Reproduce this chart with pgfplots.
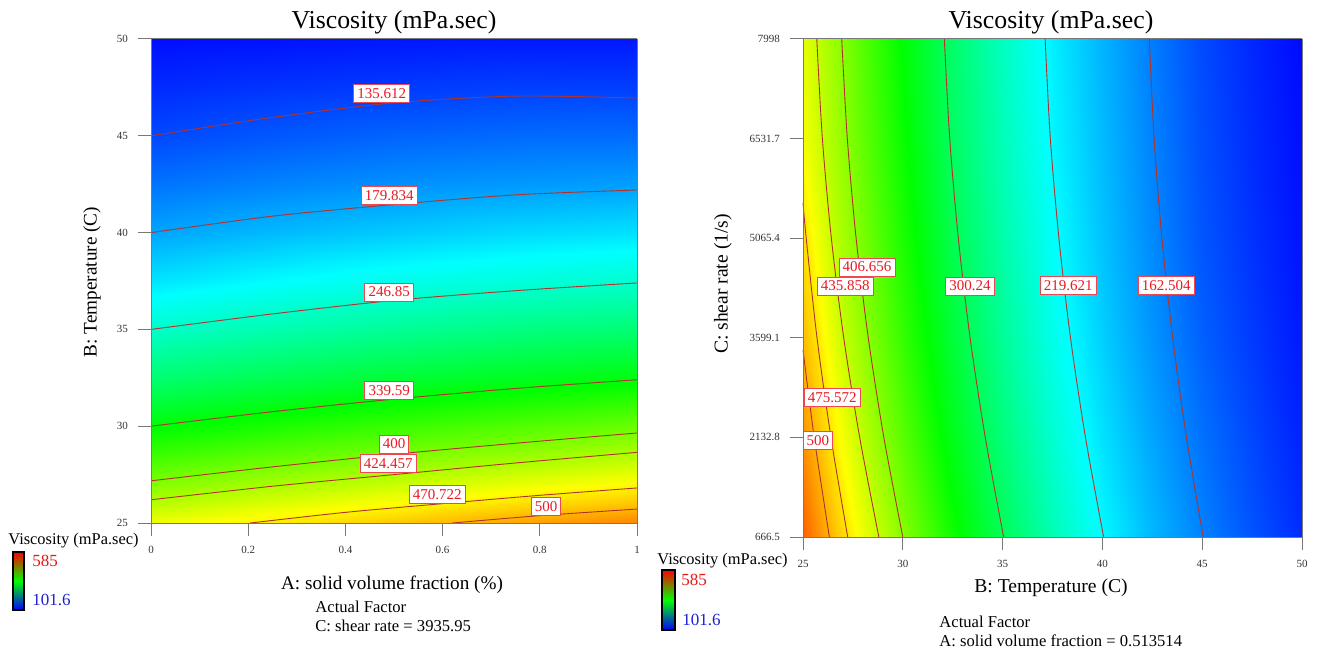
\documentclass[border=0pt]{standalone}
\usepackage{fontspec}
\setmainfont{Liberation Serif}
\usepackage{pgfplots}
\usepackage{pgfplotstable}
\pgfplotsset{compat=1.18}

\definecolor{cLine}{RGB}{175,50,45}
\definecolor{cLab}{RGB}{235,25,35}
\definecolor{cFrame}{RGB}{120,120,120}
\definecolor{cLo}{RGB}{30,30,210}
\definecolor{cHi}{RGB}{225,25,25}

% left: A (solid volume fraction) vs B (temperature), viscosity
\pgfplotstableread{
a T v
0 25 458
0.25 25 474
0.5 25 490
0.75 25 507
1 25 522
0 26 430.1
0.25 26 448.0
0.5 26 464.8
0.75 26 479.7
1 26 492.5
0 27 404.5
0.25 27 422.0
0.5 27 437.9
0.75 27 453.1
1 27 465.9
0 28 382.4
0.25 28 397.9
0.5 28 412.8
0.75 28 427.1
1 28 440.8
0 29 361.0
0.25 29 376.7
0.5 29 390.5
0.75 29 402.9
1 29 415.9
0 30 339.6
0.25 30 355.5
0.5 30 369.3
0.75 30 381.2
1 30 392.3
0 32.5 290
0.25 32.5 305
0.5 32.5 318
0.75 32.5 328
1 32.5 337
0 35 246.85
0.25 35 260
0.5 35 272
0.75 35 282
1 35 289
0 37.5 210
0.25 37.5 222
0.5 37.5 232
0.75 37.5 239
1 37.5 245
0 40 179.8
0.25 40 190
0.5 40 198
0.75 40 205
1 40 209
0 42.5 156
0.25 42.5 164
0.5 42.5 170
0.75 42.5 174
1 42.5 176.5
0 45 135.6
0.25 45 143
0.5 45 149
0.75 45 152
1 45 153
0 47.5 121
0.25 47.5 125.8
0.5 47.5 129
0.75 47.5 131.5
1 47.5 131
0 50 108
0.25 50 110
0.5 50 112
0.75 50 113
1 50 113
}\tabA

% right: B (temperature) vs C (shear rate)
\pgfplotstableread{
T C v
25 666.5 540
26 666.5 509.7
27 666.5 482.0
28 666.5 456.2
29 666.5 431.0
30 666.5 406.7
32.5 666.5 350
35 666.5 301.3
37.5 666.5 258
40 666.5 220.6
42.5 666.5 189
45 666.5 163.1
47.5 666.5 141
50 666.5 122
25 2132.8 516
26 2132.8 487.2
27 2132.8 459.0
28 2132.8 432.0
29 2132.8 407.9
30 2132.8 385
32.5 2132.8 331
35 2132.8 285
37.5 2132.8 244
40 2132.8 209
42.5 2132.8 180
45 2132.8 155
47.5 2132.8 135
50 2132.8 117
25 3599.1 496
26 3599.1 466.7
27 3599.1 437.1
28 3599.1 413.1
29 3599.1 390
30 3599.1 368
32.5 3599.1 316
35 3599.1 272
37.5 3599.1 232
40 3599.1 200
42.5 3599.1 172
45 3599.1 147
47.5 3599.1 129
50 3599.1 113
25 5065.4 480
26 5065.4 449.1
27 5065.4 422.2
28 5065.4 399.6
29 5065.4 377
30 5065.4 356
32.5 5065.4 305
35 5065.4 263
37.5 5065.4 224
40 5065.4 194
42.5 5065.4 167
45 5065.4 142
47.5 5065.4 125
50 5065.4 110
25 6531.7 461
26 6531.7 435.2
27 6531.7 411.8
28 6531.7 389
29 6531.7 368
30 6531.7 347
32.5 6531.7 297
35 6531.7 256
37.5 6531.7 218.4
40 6531.7 190
42.5 6531.7 163.5
45 6531.7 139
47.5 6531.7 122
50 6531.7 108
25 7998 453
26 7998 428.7
27 7998 405.5
28 7998 383
29 7998 362
30 7998 341
32.5 7998 293
35 7998 252
37.5 7998 215
40 7998 187
42.5 7998 160.8
45 7998 136.5
47.5 7998 120
50 7998 106
}\tabB

\pgfplotsset{
  dex/.style={
    view={0}{90}, scale only axis, axis on top, clip=false,
    anchor=south west, enlargelimits=false, scaled ticks=false,
    colormap={dex}{rgb255=(0,0,255) rgb255=(0,255,255) rgb255=(0,255,0) rgb255=(255,255,0) rgb255=(255,0,0)},
    point meta min=101.6, point meta max=585,
    axis line style={draw=cFrame, line width=0.5pt},
    tick style={draw=cFrame, line width=0.5pt},
    tick align=outside, major tick length=6.5pt,
    xtick pos=left, ytick pos=left, ztick=\empty,
    tick label style={font=\fontsize{5.5}{6}\selectfont, color=black!80},
    yticklabel style={xshift=-1.5pt},
    xticklabel style={yshift=-1.5pt},
  },
  cline/.style={draw=cLine, line width=0.45pt, smooth, tension=0.5, mark=none},
}
\tikzset{clab/.style={draw=cLab!80, fill=white, text=cLab, line width=0.5pt,
  inner xsep=1.8pt, inner ysep=0pt, minimum height=9pt, font=\fontsize{7.5}{8}\selectfont}}

\begin{document}
\begin{tikzpicture}
\useasboundingbox (0,0) rectangle (660pt,324.5pt);

\begin{axis}[dex, at={(75.5pt,63pt)}, width=243pt, height=242pt,
  xmin=0, xmax=1, ymin=25, ymax=50,
  xtick={0,0.2,0.4,0.6,0.8,1}, xticklabels={0,0.2,0.4,0.6,0.8,1},
  ytick={25,30,35,40,45,50}, yticklabels={25,30,35,40,45,50}]
  \addplot3[surf, shader=interp, mesh/cols=5] table[x=a,y=T,z=v] {\tabA};
  \addplot3[cline] coordinates {(0,45.0,0) (0.25,45.95,0) (0.5,46.7,0) (0.75,47.05,0) (1,46.95,0)};
  \addplot3[cline] coordinates {(0,40.0,0) (0.25,40.85,0) (0.5,41.45,0) (0.75,41.95,0) (1,42.2,0)};
  \addplot3[cline] coordinates {(0,35.0,0) (0.25,35.8,0) (0.5,36.5,0) (0.75,37.0,0) (1,37.4,0)};
  \addplot3[cline] coordinates {(0,30.0,0) (0.25,30.75,0) (0.5,31.4,0) (0.75,31.95,0) (1,32.4,0)};
  \addplot3[cline] coordinates {(0,27.18,0) (0.25,27.9,0) (0.5,28.55,0) (0.75,29.12,0) (1,29.65,0)};
  \addplot3[cline] coordinates {(0,26.2,0) (0.25,26.9,0) (0.5,27.5,0) (0.75,28.1,0) (1,28.65,0)};
  \addplot3[cline] coordinates {(0.204,25,0) (0.4,25.55,0) (0.6,26.0,0) (0.8,26.43,0) (1,26.81,0)};
  \addplot3[cline] coordinates {(0.62,25,0) (0.8,25.38,0) (1,25.72,0)};
  \node[clab] at (axis cs:0.475,47.16,0) {135.612};
  \node[clab] at (axis cs:0.49,41.92,0) {179.834};
  \node[clab] at (axis cs:0.49,36.93,0) {246.85};
  \node[clab] at (axis cs:0.49,31.83,0) {339.59};
  \node[clab] at (axis cs:0.5,29.08,0) {400};
  \node[clab] at (axis cs:0.488,28.06,0) {424.457};
  \node[clab] at (axis cs:0.589,26.46,0) {470.722};
  \node[clab] at (axis cs:0.813,25.84,0) {500};
\end{axis}

\begin{axis}[dex, at={(401.5pt,56pt)}, width=249.5pt, height=249pt,
  xmin=25, xmax=50, ymin=666.5, ymax=7998,
  xtick={25,30,35,40,45,50}, xticklabels={25,30,35,40,45,50},
  ytick={666.5,2132.8,3599.1,5065.4,6531.7,7998},
  yticklabels={666.5,2132.8,3599.1,5065.4,6531.7,7998}]
  \addplot3[surf, shader=interp, mesh/cols=14] table[x=T,y=C,z=v] {\tabB};
  \addplot3[cline] coordinates {(45.05,666.5,0) (44.21,2132.8,0) (43.52,3599.1,0) (42.98,5065.4,0) (42.59,6531.7,0) (42.35,7998,0)};
  \addplot3[cline] coordinates {(40.06,666.5,0) (39.15,2132.8,0) (38.40,3599.1,0) (37.82,5065.4,0) (37.39,6531.7,0) (37.13,7998,0)};
  \addplot3[cline] coordinates {(35.05,666.5,0) (34.13,2132.8,0) (33.37,3599.1,0) (32.78,5065.4,0) (32.35,6531.7,0) (32.08,7998,0)};
  \addplot3[cline] coordinates {(30.0,666.5,0) (29.05,2132.8,0) (28.27,3599.1,0) (27.66,5065.4,0) (27.22,6531.7,0) (26.94,7998,0)};
  \addplot3[cline] coordinates {(28.8,666.5,0) (27.84,2132.8,0) (27.04,3599.1,0) (26.42,5065.4,0) (25.97,6531.7,0) (25.69,7998,0)};
  \addplot3[cline] coordinates {(27.24,666.5,0) (26.40,2132.8,0) (25.70,3599.1,0) (25.16,5065.4,0) (25,5583,0)};
  \addplot3[cline] coordinates {(26.32,666.5,0) (25.56,2132.8,0) (25,3419,0)};
  \node[clab] at (axis cs:25.75,2080,0) {500};
  \node[clab] at (axis cs:26.46,2720,0) {475.572};
  \node[clab] at (axis cs:27.11,4361,0) {435.858};
  \node[clab] at (axis cs:28.21,4641,0) {406.656};
  \node[clab] at (axis cs:33.36,4361,0) {300.24};
  \node[clab] at (axis cs:38.29,4365,0) {219.621};
  \node[clab] at (axis cs:43.2,4365,0) {162.504};
\end{axis}

% texts and colour keys, placed in reference pixel units
\begin{scope}[x=0.5pt, y=-0.5pt, shift={(0pt,324.5pt)}]
  \node[font=\fontsize{12.9}{14}\selectfont] at (394,22) {Viscosity (mPa.sec)};
  \node[font=\fontsize{12.9}{14}\selectfont] at (1051,22) {Viscosity (mPa.sec)};
  \node[rotate=90, font=\fontsize{9.6}{11}\selectfont] at (92,282) {B: Temperature (C)};
  \node[rotate=90, font=\fontsize{9.8}{11}\selectfont] at (723,284) {C: shear rate (1/s)};
  \node[font=\fontsize{9.6}{11}\selectfont] at (392,585) {A: solid volume fraction (\%)};
  \node[font=\fontsize{9.8}{11}\selectfont] at (1051,588) {B: Temperature (C)};
  \node[anchor=west, inner sep=0pt, font=\fontsize{8.3}{9}\selectfont] at (315,607) {Actual Factor};
  \node[anchor=west, inner sep=0pt, font=\fontsize{8.3}{9}\selectfont] at (315,626) {C: shear rate = 3935.95};
  \node[anchor=west, inner sep=0pt, font=\fontsize{8.3}{9}\selectfont] at (939,622) {Actual Factor};
  \node[anchor=west, inner sep=0pt, font=\fontsize{8.3}{9}\selectfont] at (939,641) {A: solid volume fraction = 0.513514};
  % left key
  \node[anchor=west, inner sep=0pt, font=\fontsize{8.2}{9}\selectfont] at (8,541) {Viscosity (mPa.sec)};
  \shade[bottom color=blue, top color=green] (13,610) rectangle (24,581);
  \shade[bottom color=green, top color=red] (13,581) rectangle (24,552);
  \draw[black, line width=0.9pt] (13,552) rectangle (24,610);
  \node[anchor=west, inner sep=0pt, text=cHi, font=\fontsize{8.5}{9}\selectfont] at (32,561) {585};
  \node[anchor=west, inner sep=0pt, text=cLo, font=\fontsize{8.5}{9}\selectfont] at (32,600) {101.6};
  % right key
  \node[anchor=west, inner sep=0pt, font=\fontsize{8.2}{9}\selectfont] at (657,561) {Viscosity (mPa.sec)};
  \shade[bottom color=blue, top color=green] (662,630) rectangle (675,600);
  \shade[bottom color=green, top color=red] (662,600) rectangle (675,570);
  \draw[black, line width=0.9pt] (662,570) rectangle (675,630);
  \node[anchor=west, inner sep=0pt, text=cHi, font=\fontsize{8.5}{9}\selectfont] at (681,580) {585};
  \node[anchor=west, inner sep=0pt, text=cLo, font=\fontsize{8.5}{9}\selectfont] at (682,620) {101.6};
\end{scope}
\end{tikzpicture}
\end{document}
